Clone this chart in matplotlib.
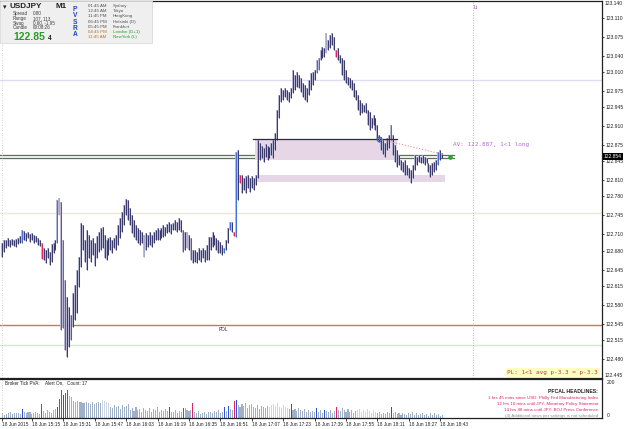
import matplotlib
matplotlib.use('Agg')
import matplotlib.pyplot as plt
from matplotlib.patches import Rectangle

# USDJPY M1, 18 Jun 2015 from 15:00, one bar per minute
highs = [
    122.694, 122.700, 122.700, 122.703, 122.700, 122.702, 122.700, 122.702, 122.703, 122.707,
    122.718, 122.716, 122.713, 122.715, 122.711, 122.713, 122.709, 122.707, 122.703, 122.700,
    122.694, 122.685, 122.681, 122.685, 122.678, 122.692, 122.694, 122.700, 122.774, 122.777,
    122.770, 122.700, 122.626, 122.595, 122.576, 122.561, 122.602, 122.617, 122.645, 122.668,
    122.731, 122.727, 122.700, 122.718, 122.709, 122.700, 122.703, 122.694, 122.707, 122.715,
    122.722, 122.724, 122.709, 122.700, 122.703, 122.705, 122.700, 122.703, 122.709, 122.727,
    122.740, 122.751, 122.764, 122.775, 122.774, 122.759, 122.746, 122.737, 122.727, 122.722,
    122.718, 122.715, 122.709, 122.713, 122.709, 122.715, 122.709, 122.715, 122.718, 122.722,
    122.718, 122.722, 122.727, 122.724, 122.729, 122.733, 122.729, 122.731, 122.737, 122.733,
    122.740, 122.737, 122.718, 122.715, 122.715, 122.709, 122.703, 122.681, 122.681, 122.678,
    122.685, 122.681, 122.685, 122.681, 122.691, 122.705, 122.705, 122.715, 122.709, 122.703,
    122.700, 122.696, 122.691, 122.685, 122.700, 122.722, 122.733, 122.733, 122.715, 122.862,
    122.866, 122.820, 122.820, 122.814, 122.818, 122.820, 122.814, 122.818, 122.814, 122.820,
    122.884, 122.879, 122.873, 122.869, 122.877, 122.873, 122.871, 122.879, 122.884, 122.897,
    122.940, 122.967, 122.980, 122.976, 122.980, 122.976, 122.973, 122.980, 123.013, 123.004,
    123.010, 123.004, 122.999, 122.989, 122.986, 122.980, 122.995, 123.008, 123.010, 123.013,
    123.032, 123.035, 123.050, 123.056, 123.054, 123.082, 123.069, 123.078, 123.082, 123.074,
    123.050, 123.054, 123.041, 123.035, 123.032, 123.013, 123.000, 122.999, 122.995, 122.989,
    122.976, 122.967, 122.958, 122.952, 122.949, 122.952, 122.940, 122.936, 122.925, 122.930,
    122.925, 122.912, 122.893, 122.890, 122.884, 122.879, 122.888, 122.893, 122.912, 122.893,
    122.875, 122.866, 122.857, 122.847, 122.844, 122.847, 122.838, 122.833, 122.829, 122.838,
    122.857, 122.853, 122.857, 122.853, 122.857, 122.853, 122.851, 122.842, 122.838, 122.842,
    122.844, 122.847, 122.862, 122.866, 122.860,
]
lows = [
    122.668, 122.678, 122.685, 122.689, 122.687, 122.691, 122.689, 122.687, 122.692, 122.694,
    122.694, 122.700, 122.698, 122.703, 122.696, 122.700, 122.694, 122.696, 122.691, 122.689,
    122.665, 122.663, 122.657, 122.667, 122.654, 122.659, 122.676, 122.681, 122.694, 122.746,
    122.534, 122.537, 122.497, 122.484, 122.502, 122.515, 122.539, 122.552, 122.565, 122.613,
    122.650, 122.681, 122.659, 122.645, 122.667, 122.659, 122.672, 122.652, 122.667, 122.678,
    122.681, 122.685, 122.667, 122.663, 122.672, 122.681, 122.676, 122.685, 122.681, 122.691,
    122.703, 122.715, 122.727, 122.746, 122.737, 122.727, 122.713, 122.705, 122.700, 122.694,
    122.691, 122.694, 122.668, 122.681, 122.687, 122.691, 122.687, 122.694, 122.700, 122.700,
    122.700, 122.703, 122.705, 122.707, 122.713, 122.715, 122.711, 122.718, 122.718, 122.715,
    122.718, 122.715, 122.678, 122.681, 122.685, 122.681, 122.663, 122.657, 122.659, 122.657,
    122.663, 122.659, 122.667, 122.659, 122.663, 122.663, 122.681, 122.687, 122.691, 122.681,
    122.676, 122.676, 122.672, 122.676, 122.681, 122.694, 122.718, 122.715, 122.707, 122.705,
    122.774, 122.805, 122.786, 122.792, 122.786, 122.796, 122.788, 122.796, 122.792, 122.801,
    122.814, 122.847, 122.851, 122.844, 122.853, 122.847, 122.851, 122.857, 122.851, 122.866,
    122.884, 122.925, 122.954, 122.958, 122.964, 122.958, 122.954, 122.962, 122.971, 122.976,
    122.982, 122.980, 122.973, 122.964, 122.958, 122.954, 122.967, 122.976, 122.986, 122.995,
    123.008, 123.013, 123.032, 123.035, 123.037, 123.045, 123.050, 123.054, 123.059, 123.050,
    123.037, 123.032, 123.026, 123.004, 122.995, 122.989, 122.986, 122.980, 122.976, 122.964,
    122.958, 122.940, 122.930, 122.934, 122.936, 122.934, 122.912, 122.903, 122.906, 122.912,
    122.903, 122.884, 122.881, 122.866, 122.858, 122.853, 122.866, 122.869, 122.884, 122.857,
    122.844, 122.834, 122.838, 122.829, 122.825, 122.820, 122.820, 122.814, 122.805, 122.814,
    122.829, 122.838, 122.844, 122.842, 122.842, 122.838, 122.842, 122.825, 122.816, 122.820,
    122.825, 122.829, 122.838, 122.847, 122.851,
]
volumes = [
    26, 18, 21, 24, 30, 22, 26, 28, 24, 21,
    45, 30, 26, 34, 30, 22, 28, 32, 26, 22,
    76, 36, 28, 42, 32, 26, 40, 45, 58, 102,
    145, 120, 132, 148, 118, 112, 88, 84, 90, 82,
    86, 80, 78, 84, 80, 76, 82, 74, 80, 86,
    78, 92, 88, 84, 80, 60, 52, 68, 56, 62,
    48, 70, 58, 64, 76, 44, 52, 36, 58, 40,
    48, 32, 54, 42, 38, 50, 30, 46, 40, 56,
    34, 44, 38, 48, 36, 58, 34, 30, 40, 26,
    36, 32, 52, 50, 44, 38, 40, 80, 30, 24,
    36, 20, 28, 32, 22, 30, 34, 26, 38, 30,
    40, 28, 34, 60, 36, 62, 45, 40, 88, 95,
    70, 58, 76, 62, 80, 52, 66, 72, 60, 54,
    68, 48, 64, 58, 50, 62, 56, 70, 76, 64,
    80, 60, 52, 68, 58, 50, 46, 74, 40, 48,
    36, 52, 44, 38, 46, 30, 42, 34, 38, 30,
    52, 34, 40, 28, 44, 36, 30, 42, 26, 38,
    60, 44, 36, 52, 40, 30, 46, 34, 42, 28,
    38, 40, 48, 34, 44, 30, 46, 36, 28, 42,
    32, 26, 32, 22, 28, 20, 30, 24, 60, 24,
    30, 20, 26, 18, 28, 22, 16, 26, 20, 30,
    18, 24, 14, 22, 28, 16, 20, 12, 24, 18,
    26, 14, 20, 10, 16,
]

# PVSRA colouring
red_bars = [20, 30, 32, 35, 92, 96, 118, 121, 170]
blue_bars = [10, 28, 31, 113, 116, 119, 160, 161, 198, 222]
grey_bars = [29, 72, 94, 165]
vol_red = [20, 29, 30, 32, 33, 92, 97, 118, 170]
vol_blue = [10, 28, 31, 85, 113, 115, 119, 147, 160, 164, 198]
vol_light = [51, 52, 53, 54, 136, 137, 138, 139, 140, 141, 142, 143, 144, 145,
             181, 182, 183, 184, 185, 186, 187, 188, 189, 190]

time_ticks = [0, 15, 31, 47, 63, 79, 95, 111, 127, 143, 159, 175, 191, 207, 223]
time_labels = ['18 Jun 2015', '18 Jun 15:15', '18 Jun 15:31', '18 Jun 15:47', '18 Jun 16:03',
               '18 Jun 16:19', '18 Jun 16:35', '18 Jun 16:51', '18 Jun 17:07', '18 Jun 17:23',
               '18 Jun 17:39', '18 Jun 17:55', '18 Jun 18:11', '18 Jun 18:27', '18 Jun 18:43']
price_ticks = [123.140, 123.110, 123.075, 123.040, 123.010, 122.975, 122.945, 122.910,
               122.875, 122.845, 122.810, 122.780, 122.745, 122.710, 122.680, 122.645,
               122.615, 122.580, 122.545, 122.515, 122.480, 122.445]

current_price = 122.854
fast_lines = [122.857, 122.851]
pdl = 122.543
levels = {122.995: '#dcdcf4', 122.750: '#eee6d8', 122.506: '#cfeacf'}
box_hi = (128.6, 201.0, 122.847, 122.886)
box_lo = (129.6, 225.4, 122.807, 122.820)
entry = (191.8, 122.886)
target = (225.4, 122.857)
live_line = 239.6

plt.rcParams['font.family'] = ['Liberation Sans', 'DejaVu Sans']

W, H = 625.0, 429.0
def fx(x):
    return x / W
def fy(y):
    return 1 - y / H

fig = plt.figure(figsize=(6.25, 4.29), dpi=100)
ax = fig.add_axes([0, fy(378), fx(602), 377 / H])
axv = fig.add_axes([0, fy(418), fx(602), 39 / H])
xl = (-1.27, 305.4)

n = len(highs)
idx = list(range(n))
bar_cols = []
for i in idx:
    if i in red_bars:
        bar_cols.append('#e0245e')
    elif i in blue_bars:
        bar_cols.append('#3f6fe0')
    elif i in grey_bars:
        bar_cols.append('#a9a9c9')
    else:
        bar_cols.append('#3b3b6d')

ax.vlines(idx, lows, highs, colors='#b4b4d4', lw=1.3, zorder=3)
ax.vlines(idx, lows, highs, colors=bar_cols, lw=0.75, zorder=4)

for y, c in levels.items():
    ax.axhline(y, color=c, lw=1, zorder=1)
ax.axhline(pdl, color='#e06868', lw=1, zorder=1)
ax.text(110, pdl - 0.004, 'PDL', fontsize=3.6, color='#303060', va='top')
for y in fast_lines:
    ax.plot([xl[0], 230], [y, y], color='#5e6e5e', lw=0.9, zorder=2)

ax.add_patch(Rectangle((box_hi[0], box_hi[2]), box_hi[1] - box_hi[0], box_hi[3] - box_hi[2],
                       facecolor='#e6d6e6', edgecolor='none', zorder=2))
ax.plot([box_hi[0] - 1, box_hi[1]], [box_hi[3], box_hi[3]], color='#2a2a40', lw=0.9, zorder=5)
ax.add_patch(Rectangle((box_lo[0], box_lo[2]), box_lo[1] - box_lo[0], box_lo[3] - box_lo[2],
                       facecolor='#e6d6e6', edgecolor='none', zorder=2))
ax.plot([entry[0], target[0]], [entry[1], target[1]], ls=':', color='#f08888', lw=0.8, zorder=5)
ax.plot(*entry, 'o', mfc='none', mec='#3060e0', ms=3.2, mew=0.9, zorder=6)
ax.plot(target[0] + 2.5, target[1] - 0.004, 'o', color='#22aa22', ms=2.3, zorder=6)
ax.text(target[0] + 4, 122.875, 'AV: 122.887, 1<1 long', fontsize=4.3, color='#b070d0',
        family='DejaVu Sans Mono', va='center')

ax.axvline(live_line, color='#a0a0a0', lw=0.6, ls=(0, (1, 2)))
for a in (ax, axv):
    a.axvline(-0.3, color='#c0c0c0', lw=0.6, ls=(0, (1, 2)))
    a.set_xlim(*xl)
    a.spines['left'].set_visible(False)
    for s in ('top', 'right', 'bottom'):
        a.spines[s].set_color('#202020')
        a.spines[s].set_linewidth(0.9)
ax.text(live_line + 0.6, 123.128, 'Lt', fontsize=3.6, color='#9050b0', va='center')

ax.set_ylim(122.4453, 123.1405)
ax.yaxis.tick_right()
ax.set_yticks(price_ticks[1:-1])
ax.set_yticklabels(['%.3f' % p for p in price_ticks[1:-1]])
ax.tick_params(axis='y', labelsize=3.6, length=1.5, pad=0.8, width=0.6, colors='#202020')
ax.set_xticks([])
ax.text(1.005, price_ticks[0], '%.3f' % price_ticks[0], transform=ax.get_yaxis_transform(),
        fontsize=3.6, color='#202020', va='top', ha='left')
ax.text(1.005, price_ticks[-1], '%.3f' % price_ticks[-1], transform=ax.get_yaxis_transform(),
        fontsize=3.6, color='#202020', va='bottom', ha='left')
ax.text(1.003, current_price, '%.3f' % current_price, transform=ax.get_yaxis_transform(),
        fontsize=3.6, color='white', va='center', ha='left',
        bbox=dict(boxstyle='square,pad=0.15', fc='black', ec='none'))

vcols = []
for i in idx:
    if i in vol_red:
        vcols.append('#e0245e')
    elif i in vol_blue:
        vcols.append('#2a52e0')
    elif i in vol_light:
        vcols.append('#ccd5e4')
    else:
        vcols.append('#9fb0c8')
axv.bar(idx, volumes, width=0.55, color=vcols)
axv.set_ylim(0, 205)
axv.set_yticks([])
axv.text(1.008, 200, '200', transform=axv.get_yaxis_transform(), fontsize=3.6,
         color='#202020', va='top', ha='left')
axv.text(1.008, 0, '0', transform=axv.get_yaxis_transform(), fontsize=3.6,
         color='#202020', va='bottom', ha='left')
axv.set_xticks(time_ticks)
axv.set_xticklabels(time_labels, ha='left')
axv.tick_params(axis='x', labelsize=3.4, length=2, pad=1.2, width=0.6, colors='#202020')
axv.text(1.5, 197, 'Broker Tick PVA:', fontsize=3.3, color='#202020', va='top')
axv.text(21.6, 197, 'Alert On,', fontsize=3.3, color='#202020', va='top')
axv.text(32.9, 197, 'Count: 17', fontsize=3.3, color='#202020', va='top')

# top-left info panel
fig.patches.append(Rectangle((0, fy(43)), fx(152), 42 / H, transform=fig.transFigure,
                             facecolor='#efefef', edgecolor='#dadada', lw=0.6))
fig.text(fx(3), fy(7), '\u25be', fontsize=5, color='#202020', va='center',
         family='DejaVu Sans')
fig.text(fx(10), fy(7), 'USDJPY', fontsize=5.9, weight='bold', color='#202020', va='center')
fig.text(fx(55), fy(7), 'M1', fontsize=5.9, weight='bold', color='#202020', va='center')
for k, (lab, val) in enumerate([('Spread', '0.80'), ('Range', '107, 113'),
                                ('Swap', '0.60, -1.95'), ('Candle', '00:08:26')]):
    fig.text(fx(13), fy(13.5 + 4.8 * k), lab, fontsize=3.3, color='#404040', va='center')
    fig.text(fx(33), fy(13.5 + 4.8 * k), val, fontsize=3.3, color='#404040', va='center')
fig.text(fx(13), fy(37), '122.85', fontsize=7.5, weight='bold', color='#2a9a2a', va='center')
fig.text(fx(47.5), fy(38), '4', fontsize=4.8, weight='bold', color='#202020', va='center')
for k, ch in enumerate('PVSRA'):
    fig.text(fx(75), fy(9.5 + 6.3 * k), ch, fontsize=4.8, weight='bold', color='#2040c0',
             va='center', ha='center')
clock = [('01:45 AM', 'Sydney'), ('12:45 AM', 'Tokyo'), ('11:45 PM', 'HongKong'),
         ('06:45 PM', 'Helsinki (D)'), ('05:45 PM', 'Frankfurt'),
         ('04:45 PM', 'London (D+1)'), ('11:45 AM', 'NewYork (L)')]
for k, (t, city) in enumerate(clock):
    tc = '#c07020' if k >= 5 else '#505050'
    cc = '#2a9a2a' if k >= 5 else '#505050'
    fig.text(fx(88), fy(6 + 5.2 * k), t, fontsize=3.2, color=tc, va='center')
    fig.text(fx(113), fy(6 + 5.2 * k), city, fontsize=3.2, color=cc, va='center')

fig.text(fx(598), fy(372.5), 'PL: 1<1 avg p-3.3 = p-3.3', fontsize=4.3, color='#c03060',
         family='DejaVu Sans Mono', ha='right', va='center',
         bbox=dict(boxstyle='square,pad=0.3', fc='#ffffc0', ec='none'))

fig.text(fx(598), fy(391.5), 'PFCAL HEADLINES:', fontsize=3.7, weight='bold', color='#202020',
         ha='right', va='center')
news = ['1 hrs 45 mins since USD: Philly Fed Manufacturing Index',
        '12 hrs 10 mins until JPY: Monetary Policy Statement',
        '14 hrs 48 mins until JPY: BOJ Press Conference',
        '(4) Additional news per settings is not scheduled']
for k, line in enumerate(news):
    c = '#909090' if k == 3 else '#e0245e'
    fig.text(fx(598), fy(398.5 + 5.8 * k), line, fontsize=3.2, color=c, ha='right', va='center')

fig.savefig('out.png', dpi=100)
